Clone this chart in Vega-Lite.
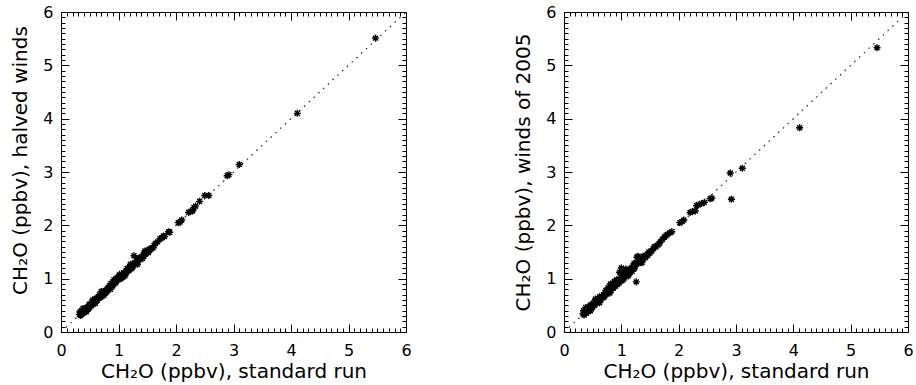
{
  "$schema": "https://vega.github.io/schema/vega-lite/v6.json",
  "background": "white",
  "padding": {"left": 10, "top": 3, "right": 0, "bottom": 0},
  "spacing": 101,
  "config": {
    "view": {"stroke": "black", "strokeWidth": 1},
    "axis": {
      "grid": false,
      "domain": false,
      "ticks": true,
      "tickColor": "black",
      "tickWidth": 1,
      "tickSize": 8,
      "offset": -8,
      "labelColor": "black",
      "titleColor": "black",
      "labelFont": "DejaVu Sans",
      "titleFont": "DejaVu Sans",
      "labelFontSize": 16,
      "titleFontSize": 20,
      "titleFontWeight": "normal",
      "labelOverlap": false,
      "labelFlush": false
    }
  },
  "datasets": {
    "halved": [
      {"x":0.32,"y":0.33},{"x":0.33,"y":0.38},{"x":0.35,"y":0.34},{"x":0.36,"y":0.40},{"x":0.38,"y":0.36},{"x":0.39,"y":0.41},{"x":0.40,"y":0.38},{"x":0.42,"y":0.43},{"x":0.43,"y":0.40},{"x":0.45,"y":0.42},{"x":0.46,"y":0.46},{"x":0.48,"y":0.44},{"x":0.50,"y":0.47},{"x":0.51,"y":0.50},{"x":0.53,"y":0.49},{"x":0.55,"y":0.53},{"x":0.56,"y":0.55},{"x":0.58,"y":0.56},{"x":0.60,"y":0.58},{"x":0.61,"y":0.62},{"x":0.63,"y":0.60},{"x":0.64,"y":0.64},{"x":0.66,"y":0.63},{"x":0.68,"y":0.67},{"x":0.69,"y":0.65},{"x":0.71,"y":0.70},{"x":0.72,"y":0.73},{"x":0.74,"y":0.72},{"x":0.76,"y":0.74},{"x":0.77,"y":0.78},{"x":0.79,"y":0.76},{"x":0.81,"y":0.80},{"x":0.82,"y":0.84},{"x":0.84,"y":0.82},{"x":0.86,"y":0.85},{"x":0.88,"y":0.88},{"x":0.89,"y":0.91},{"x":0.91,"y":0.89},{"x":0.93,"y":0.94},{"x":0.94,"y":0.97},{"x":0.96,"y":0.95},{"x":0.98,"y":0.99},{"x":0.99,"y":1.02},{"x":1.01,"y":0.99},{"x":1.03,"y":1.04},{"x":1.05,"y":1.02},{"x":1.06,"y":1.07},{"x":1.08,"y":1.05},{"x":1.10,"y":1.10},{"x":1.12,"y":1.08},{"x":1.14,"y":1.14},{"x":1.16,"y":1.17},{"x":1.18,"y":1.15},{"x":1.20,"y":1.20},{"x":1.22,"y":1.24},{"x":1.24,"y":1.22},{"x":1.26,"y":1.27},{"x":1.27,"y":1.43},{"x":1.28,"y":1.30},{"x":1.30,"y":1.28},{"x":1.32,"y":1.33},{"x":1.35,"y":1.36},{"x":1.37,"y":1.39},{"x":1.40,"y":1.40},{"x":1.43,"y":1.44},{"x":1.45,"y":1.48},{"x":1.47,"y":1.46},{"x":1.50,"y":1.50},{"x":1.52,"y":1.49},{"x":1.55,"y":1.54},{"x":1.58,"y":1.57},{"x":1.62,"y":1.62},{"x":1.64,"y":1.66},{"x":1.68,"y":1.69},{"x":1.72,"y":1.75},{"x":1.75,"y":1.76},{"x":1.78,"y":1.80},{"x":1.80,"y":1.79},{"x":1.87,"y":1.88},{"x":1.89,"y":1.87},
      {"x":0.34,"y":0.31},{"x":0.37,"y":0.35},{"x":0.41,"y":0.37},{"x":0.44,"y":0.45},{"x":0.47,"y":0.43},{"x":0.52,"y":0.51},{"x":0.57,"y":0.53},{"x":0.62,"y":0.59},{"x":0.65,"y":0.66},{"x":0.70,"y":0.67},{"x":0.75,"y":0.76},{"x":0.80,"y":0.77},{"x":0.85,"y":0.87},{"x":0.90,"y":0.86},{"x":0.95,"y":0.92},{"x":1.00,"y":1.04},{"x":1.04,"y":1.00},{"x":1.09,"y":1.11},{"x":1.13,"y":1.11},{"x":1.19,"y":1.21},{"x":1.25,"y":1.23},{"x":1.31,"y":1.30},{"x":1.38,"y":1.36},{"x":1.44,"y":1.42},{"x":1.48,"y":1.51},
      {"x":0.36,"y":0.33},{"x":0.49,"y":0.52},{"x":0.59,"y":0.62},{"x":0.67,"y":0.70},{"x":0.78,"y":0.74},{"x":0.87,"y":0.91},{"x":0.97,"y":1.01},{"x":1.07,"y":1.03},{"x":1.15,"y":1.19},{"x":1.23,"y":1.19},{"x":1.34,"y":1.38},{"x":1.42,"y":1.38},{"x":1.53,"y":1.55},{"x":1.60,"y":1.58},
      {"x":0.38,"y":0.44},{"x":0.44,"y":0.38},{"x":0.55,"y":0.60},{"x":0.60,"y":0.54},{"x":0.70,"y":0.76},{"x":0.75,"y":0.69},{"x":0.86,"y":0.80},{"x":0.92,"y":0.98},{"x":1.02,"y":1.08},{"x":1.11,"y":1.05},{"x":1.21,"y":1.27},{"x":1.33,"y":1.27},{"x":1.46,"y":1.52},
      {"x":2.04,"y":2.05},{"x":2.07,"y":2.06},{"x":2.10,"y":2.10},{"x":2.22,"y":2.24},{"x":2.25,"y":2.26},{"x":2.29,"y":2.27},{"x":2.31,"y":2.33},{"x":2.34,"y":2.36},{"x":2.41,"y":2.45},{"x":2.50,"y":2.56},{"x":2.57,"y":2.56},{"x":2.89,"y":2.93},{"x":2.92,"y":2.95},{"x":3.10,"y":3.14},{"x":4.11,"y":4.10},{"x":5.47,"y":5.51}
    ],
    "winds2005": [
      {"x":0.33,"y":0.34},{"x":0.34,"y":0.40},{"x":0.36,"y":0.36},{"x":0.37,"y":0.42},{"x":0.39,"y":0.35},{"x":0.40,"y":0.40},{"x":0.42,"y":0.44},{"x":0.43,"y":0.39},{"x":0.45,"y":0.45},{"x":0.46,"y":0.50},{"x":0.48,"y":0.43},{"x":0.49,"y":0.52},{"x":0.50,"y":0.47},{"x":0.52,"y":0.55},{"x":0.53,"y":0.50},{"x":0.55,"y":0.53},{"x":0.56,"y":0.58},{"x":0.58,"y":0.55},{"x":0.60,"y":0.61},{"x":0.61,"y":0.57},{"x":0.63,"y":0.64},{"x":0.64,"y":0.60},{"x":0.66,"y":0.67},{"x":0.68,"y":0.64},{"x":0.69,"y":0.70},{"x":0.71,"y":0.68},{"x":0.72,"y":0.74},{"x":0.74,"y":0.71},{"x":0.76,"y":0.77},{"x":0.78,"y":0.74},{"x":0.79,"y":0.81},{"x":0.81,"y":0.90},{"x":0.82,"y":0.78},{"x":0.84,"y":0.85},{"x":0.85,"y":0.91},{"x":0.86,"y":0.82},{"x":0.88,"y":0.88},{"x":0.90,"y":0.86},{"x":0.91,"y":0.93},{"x":0.93,"y":0.89},{"x":0.94,"y":0.97},{"x":0.96,"y":0.92},{"x":0.97,"y":1.12},{"x":0.98,"y":0.99},{"x":1.00,"y":1.20},{"x":1.01,"y":0.96},{"x":1.02,"y":1.05},{"x":1.04,"y":1.15},{"x":1.05,"y":1.01},{"x":1.06,"y":1.08},{"x":1.08,"y":1.18},{"x":1.09,"y":1.06},{"x":1.11,"y":1.10},{"x":1.13,"y":1.15},{"x":1.15,"y":1.11},{"x":1.17,"y":1.18},{"x":1.19,"y":1.14},{"x":1.21,"y":1.22},{"x":1.23,"y":1.19},{"x":1.25,"y":1.26},{"x":1.26,"y":0.94},{"x":1.27,"y":1.40},{"x":1.29,"y":1.42},{"x":1.30,"y":1.29},{"x":1.32,"y":1.35},{"x":1.35,"y":1.33},{"x":1.37,"y":1.38},{"x":1.40,"y":1.41},{"x":1.42,"y":1.39},{"x":1.45,"y":1.46},{"x":1.48,"y":1.50},{"x":1.50,"y":1.48},{"x":1.53,"y":1.52},{"x":1.56,"y":1.57},{"x":1.60,"y":1.60},{"x":1.64,"y":1.63},{"x":1.68,"y":1.69},{"x":1.72,"y":1.74},{"x":1.75,"y":1.78},{"x":1.78,"y":1.80},{"x":1.80,"y":1.83},{"x":1.85,"y":1.86},{"x":1.88,"y":1.88},
      {"x":0.35,"y":0.32},{"x":0.44,"y":0.48},{"x":0.54,"y":0.57},{"x":0.62,"y":0.66},{"x":0.70,"y":0.66},{"x":0.77,"y":0.83},{"x":0.83,"y":0.88},{"x":0.92,"y":0.98},{"x":0.99,"y":1.09},{"x":1.03,"y":0.99},{"x":1.10,"y":1.14},{"x":1.18,"y":1.21},{"x":1.24,"y":1.29},{"x":1.33,"y":1.31},{"x":1.38,"y":1.42},{"x":1.46,"y":1.44},{"x":1.58,"y":1.60},{"x":1.66,"y":1.66},
      {"x":0.38,"y":0.46},{"x":0.46,"y":0.40},{"x":0.55,"y":0.62},{"x":0.62,"y":0.55},{"x":0.73,"y":0.78},{"x":0.80,"y":0.73},{"x":0.88,"y":0.95},{"x":1.03,"y":1.13},{"x":1.12,"y":1.05},{"x":1.22,"y":1.28},{"x":1.36,"y":1.30},
      {"x":2.02,"y":2.05},{"x":2.06,"y":2.07},{"x":2.09,"y":2.10},{"x":2.20,"y":2.24},{"x":2.24,"y":2.26},{"x":2.29,"y":2.27},{"x":2.31,"y":2.37},{"x":2.34,"y":2.38},{"x":2.40,"y":2.41},{"x":2.45,"y":2.43},{"x":2.55,"y":2.50},{"x":2.58,"y":2.51},{"x":2.90,"y":2.98},{"x":2.92,"y":2.49},{"x":3.11,"y":3.07},{"x":4.11,"y":3.83},{"x":5.46,"y":5.33}
    ],
    "diag": [{"x":0,"y":0,"x2":6,"y2":6}]
  },
  "hconcat": [
    {
      "width": 345,
      "height": 320,
      "layer": [
        {
          "data": {"name": "diag"},
          "mark": {"type": "rule", "strokeDash": [1.5, 5], "color": "#222", "strokeWidth": 1.2},
          "encoding": {
            "x": {"field": "x", "type": "quantitative", "scale": {"domain": [0, 6], "nice": false}, "axis": {"orient": "bottom", "values": [0,0.1,0.2,0.3,0.4,0.5,0.6,0.7,0.8,0.9,1,1.1,1.2,1.3,1.4,1.5,1.6,1.7,1.8,1.9,2,2.1,2.2,2.3,2.4,2.5,2.6,2.7,2.8,2.9,3,3.1,3.2,3.3,3.4,3.5,3.6,3.7,3.8,3.9,4,4.1,4.2,4.3,4.4,4.5,4.6,4.7,4.8,4.9,5,5.1,5.2,5.3,5.4,5.5,5.6,5.7,5.8,5.9,6], "tickDash": {"condition": {"test": "abs(datum.value - round(datum.value)) > 0.01", "value": [0, 4, 4, 10]}, "value": [8, 0]}, "labelExpr": "abs(datum.value - round(datum.value)) < 0.01 ? format(datum.value, 'd') : ''", "labelPadding": 10, "titlePadding": 3, "title": "CH₂O (ppbv), standard run"}},
            "y": {"field": "y", "type": "quantitative", "scale": {"domain": [0, 6], "nice": false}, "axis": {"orient": "left", "values": [0,0.1,0.2,0.3,0.4,0.5,0.6,0.7,0.8,0.9,1,1.1,1.2,1.3,1.4,1.5,1.6,1.7,1.8,1.9,2,2.1,2.2,2.3,2.4,2.5,2.6,2.7,2.8,2.9,3,3.1,3.2,3.3,3.4,3.5,3.6,3.7,3.8,3.9,4,4.1,4.2,4.3,4.4,4.5,4.6,4.7,4.8,4.9,5,5.1,5.2,5.3,5.4,5.5,5.6,5.7,5.8,5.9,6], "tickDash": {"condition": {"test": "abs(datum.value - round(datum.value)) > 0.01", "value": [0, 4, 4, 10]}, "value": [8, 0]}, "labelExpr": "abs(datum.value - round(datum.value)) < 0.01 ? format(datum.value, 'd') : ''", "labelPadding": 8, "titlePadding": 12, "titleY": 148, "title": "CH₂O (ppbv), halved winds"}},
            "x2": {"field": "x2"},
            "y2": {"field": "y2"}
          }
        },
        {
          "data": {"name": "halved"},
          "mark": {"type": "point", "shape": "M-1,0L1,0M0,-1L0,1M-0.7,-0.7L0.7,0.7M-0.7,0.7L0.7,-0.7", "filled": false, "stroke": "black", "strokeWidth": 1.4, "size": 50, "opacity": 1},
          "encoding": {
            "x": {"field": "x", "type": "quantitative", "axis": {"orient": "top", "labels": false, "title": null, "values": [0,0.1,0.2,0.3,0.4,0.5,0.6,0.7,0.8,0.9,1,1.1,1.2,1.3,1.4,1.5,1.6,1.7,1.8,1.9,2,2.1,2.2,2.3,2.4,2.5,2.6,2.7,2.8,2.9,3,3.1,3.2,3.3,3.4,3.5,3.6,3.7,3.8,3.9,4,4.1,4.2,4.3,4.4,4.5,4.6,4.7,4.8,4.9,5,5.1,5.2,5.3,5.4,5.5,5.6,5.7,5.8,5.9,6], "tickDash": {"condition": {"test": "abs(datum.value - round(datum.value)) > 0.01", "value": [0, 4, 4, 10]}, "value": [8, 0]}}},
            "y": {"field": "y", "type": "quantitative", "axis": {"orient": "right", "labels": false, "title": null, "values": [0,0.1,0.2,0.3,0.4,0.5,0.6,0.7,0.8,0.9,1,1.1,1.2,1.3,1.4,1.5,1.6,1.7,1.8,1.9,2,2.1,2.2,2.3,2.4,2.5,2.6,2.7,2.8,2.9,3,3.1,3.2,3.3,3.4,3.5,3.6,3.7,3.8,3.9,4,4.1,4.2,4.3,4.4,4.5,4.6,4.7,4.8,4.9,5,5.1,5.2,5.3,5.4,5.5,5.6,5.7,5.8,5.9,6], "tickDash": {"condition": {"test": "abs(datum.value - round(datum.value)) > 0.01", "value": [0, 4, 4, 10]}, "value": [8, 0]}}}
          }
        }
      ],
      "resolve": {"axis": {"x": "independent", "y": "independent"}}
    },
    {
      "width": 344,
      "height": 320,
      "layer": [
        {
          "data": {"name": "diag"},
          "mark": {"type": "rule", "strokeDash": [1.5, 5], "color": "#222", "strokeWidth": 1.2},
          "encoding": {
            "x": {"field": "x", "type": "quantitative", "scale": {"domain": [0, 6], "nice": false}, "axis": {"orient": "bottom", "values": [0,0.1,0.2,0.3,0.4,0.5,0.6,0.7,0.8,0.9,1,1.1,1.2,1.3,1.4,1.5,1.6,1.7,1.8,1.9,2,2.1,2.2,2.3,2.4,2.5,2.6,2.7,2.8,2.9,3,3.1,3.2,3.3,3.4,3.5,3.6,3.7,3.8,3.9,4,4.1,4.2,4.3,4.4,4.5,4.6,4.7,4.8,4.9,5,5.1,5.2,5.3,5.4,5.5,5.6,5.7,5.8,5.9,6], "tickDash": {"condition": {"test": "abs(datum.value - round(datum.value)) > 0.01", "value": [0, 4, 4, 10]}, "value": [8, 0]}, "labelExpr": "abs(datum.value - round(datum.value)) < 0.01 ? format(datum.value, 'd') : ''", "labelPadding": 10, "titlePadding": 3, "title": "CH₂O (ppbv), standard run"}},
            "y": {"field": "y", "type": "quantitative", "scale": {"domain": [0, 6], "nice": false}, "axis": {"orient": "left", "values": [0,0.1,0.2,0.3,0.4,0.5,0.6,0.7,0.8,0.9,1,1.1,1.2,1.3,1.4,1.5,1.6,1.7,1.8,1.9,2,2.1,2.2,2.3,2.4,2.5,2.6,2.7,2.8,2.9,3,3.1,3.2,3.3,3.4,3.5,3.6,3.7,3.8,3.9,4,4.1,4.2,4.3,4.4,4.5,4.6,4.7,4.8,4.9,5,5.1,5.2,5.3,5.4,5.5,5.6,5.7,5.8,5.9,6], "tickDash": {"condition": {"test": "abs(datum.value - round(datum.value)) > 0.01", "value": [0, 4, 4, 10]}, "value": [8, 0]}, "labelExpr": "abs(datum.value - round(datum.value)) < 0.01 ? format(datum.value, 'd') : ''", "labelPadding": 8, "titlePadding": 12, "title": "CH₂O (ppbv), winds of 2005"}},
            "x2": {"field": "x2"},
            "y2": {"field": "y2"}
          }
        },
        {
          "data": {"name": "winds2005"},
          "mark": {"type": "point", "shape": "M-1,0L1,0M0,-1L0,1M-0.7,-0.7L0.7,0.7M-0.7,0.7L0.7,-0.7", "filled": false, "stroke": "black", "strokeWidth": 1.4, "size": 50, "opacity": 1},
          "encoding": {
            "x": {"field": "x", "type": "quantitative", "axis": {"orient": "top", "labels": false, "title": null, "values": [0,0.1,0.2,0.3,0.4,0.5,0.6,0.7,0.8,0.9,1,1.1,1.2,1.3,1.4,1.5,1.6,1.7,1.8,1.9,2,2.1,2.2,2.3,2.4,2.5,2.6,2.7,2.8,2.9,3,3.1,3.2,3.3,3.4,3.5,3.6,3.7,3.8,3.9,4,4.1,4.2,4.3,4.4,4.5,4.6,4.7,4.8,4.9,5,5.1,5.2,5.3,5.4,5.5,5.6,5.7,5.8,5.9,6], "tickDash": {"condition": {"test": "abs(datum.value - round(datum.value)) > 0.01", "value": [0, 4, 4, 10]}, "value": [8, 0]}}},
            "y": {"field": "y", "type": "quantitative", "axis": {"orient": "right", "labels": false, "title": null, "values": [0,0.1,0.2,0.3,0.4,0.5,0.6,0.7,0.8,0.9,1,1.1,1.2,1.3,1.4,1.5,1.6,1.7,1.8,1.9,2,2.1,2.2,2.3,2.4,2.5,2.6,2.7,2.8,2.9,3,3.1,3.2,3.3,3.4,3.5,3.6,3.7,3.8,3.9,4,4.1,4.2,4.3,4.4,4.5,4.6,4.7,4.8,4.9,5,5.1,5.2,5.3,5.4,5.5,5.6,5.7,5.8,5.9,6], "tickDash": {"condition": {"test": "abs(datum.value - round(datum.value)) > 0.01", "value": [0, 4, 4, 10]}, "value": [8, 0]}}}
          }
        }
      ],
      "resolve": {"axis": {"x": "independent", "y": "independent"}}
    }
  ]
}
